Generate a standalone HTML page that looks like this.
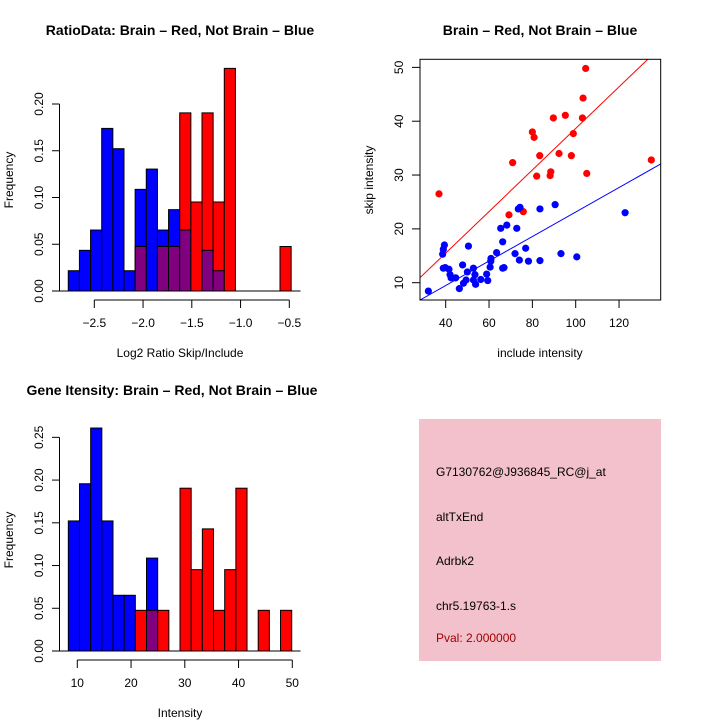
<!DOCTYPE html>
<html><head><meta charset="utf-8"><style>
html,body{margin:0;padding:0;background:#fff;}
svg{display:block;font-family:"Liberation Sans",sans-serif;}
</style></head><body>
<svg id="chart" width="720" height="720" viewBox="0 0 720 720">
<rect x="0" y="0" width="720" height="720" fill="#fff"/>
<g id="p1"></g>
<g id="p2"></g>
<g id="p3"></g>
<g>
<rect x="419" y="419" width="242" height="242" fill="#f3c1cb"/>
<text x="436" y="476" font-size="12" fill="#000">G7130762@J936845_RC@j_at</text>
<text x="436" y="521" font-size="12" fill="#000">altTxEnd</text>
<text x="436" y="565" font-size="12" fill="#000">Adrbk2</text>
<text x="436" y="610" font-size="12" fill="#000">chr5.19763-1.s</text>
<text x="436" y="642" font-size="12" fill="#a00000">Pval: 2.000000</text>
</g>
</svg>
<script>
// Ratio histogram data
const ratioBinStart = -2.767;
const ratioBinWidth = 0.1143;
const ratioBlue = [0.0217,0.0435,0.0652,0.1739,0.1522,0.0217,0.1087,0.1304,0.0652,0.0870,0.0652,0,0.0435,0.0217,0,0,0,0,0,0];
const ratioRed  = [0,0,0,0,0,0,0.0476,0,0.0476,0.0476,0.1905,0.0952,0.1905,0.0952,0.2381,0,0,0,0,0.0476];
const ratioXTicks = [-2.5,-2.0,-1.5,-1.0,-0.5];
const ratioXTickLabels = ["\u22122.5","\u22122.0","\u22121.5","\u22121.0","\u22120.5"];
const ratioYTicks = [0,0.05,0.10,0.15,0.20];
const ratioYTickLabels = ["0.00","0.05","0.10","0.15","0.20"];
// Intensity histogram data
const intBinStart = 8.33;
const intBinWidth = 2.078;
const intBlue = [0.1522,0.1957,0.2609,0.1522,0.0652,0.0652,0,0.1087,0,0,0,0,0,0,0,0,0,0,0,0];
const intRed  = [0,0,0,0,0,0,0.0476,0.0476,0.0476,0,0.1905,0.0952,0.1429,0.0476,0.0952,0.1905,0,0.0476,0,0.0476];
const intXTicks = [10,20,30,40,50];
const intYTicks = [0,0.05,0.10,0.15,0.20,0.25];
const intYTickLabels = ["0.00","0.05","0.10","0.15","0.20","0.25"];
// Scatter data
const redX = [36.9,70.9,69.2,75.8,80.0,80.8,83.4,82.0,88.2,88.5,89.7,92.3,95.2,98.0,98.9,103.1,103.4,104.6,105.1,134.9];
const redY = [26.5,32.3,22.6,23.2,38.0,37.0,33.6,29.8,29.9,30.6,40.6,34.0,41.1,33.6,37.7,40.6,44.3,49.8,30.3,32.8];
const blueX = [32.0,38.6,38.9,39.4,38.9,39.8,41.5,42.0,42.5,44.6,46.3,47.8,48.2,49.4,50.0,50.5,52.8,52.8,53.5,53.8,56.2,58.9,59.4,60.5,60.8,60.9,63.5,65.4,66.3,66.3,66.9,68.2,72.0,72.8,74.0,73.5,74.3,76.9,78.2,83.5,83.5,90.5,93.2,100.5,122.8];
const blueY = [8.45,15.3,16.2,17.0,12.7,12.8,12.5,11.5,10.9,10.9,8.9,13.3,9.9,10.5,12.0,16.8,12.7,10.5,11.5,9.7,10.6,11.6,10.4,12.9,14.0,14.5,15.6,20.1,17.6,12.7,12.8,20.7,15.4,20.1,14.2,23.7,24.0,16.4,14.0,23.7,14.1,24.5,15.4,14.8,23.0];
const redFit = [0.06, 0.386];
const blueFit = [0.38, 0.2275];
const scXTicks = [40,60,80,100,120];
const scYTicks = [10,20,30,40,50];

const NS="http://www.w3.org/2000/svg";
function mk(parent,tag,attrs,text){
  const e=document.createElementNS(NS,tag);
  for(const k in attrs) e.setAttribute(k,attrs[k]);
  if(text!==undefined) e.textContent=text;
  parent.appendChild(e); return e;
}
function line(p,x1,y1,x2,y2,col,name){
  const l=mk(p,'line',{x1:x1,y1:y1,x2:x2,y2:y2,stroke:col||'#000','stroke-width':1});
  
  
  return l;
}
function txt(p,x,y,s,size,name,extra){
  const t=mk(p,'text',Object.assign({x:x,y:y,'font-size':size,'text-anchor':'middle'},extra||{}),s);
  
  
  return t;
}

function histogram(gid,o){
  const g=document.getElementById(gid);
  const sx=v=>o.x0px+(v-o.x0v)*o.xs;
  const sy=v=>o.y0px-v*o.ys;
  const n=Math.max(o.blue.length,o.red.length);
  for(let i=0;i<n;i++){
    const a=o.start+i*o.width, b=a+o.width;
    const bl=o.blue[i]||0, rd=o.red[i]||0;
    const hi=Math.max(bl,rd), lo=Math.min(bl,rd);
    if(hi>0){
      const r=mk(g,'rect',{x:sx(a),y:sy(hi),width:sx(b)-sx(a),height:sy(0)-sy(hi),fill:bl>=rd?'#0000ff':'#ff0000',stroke:'#000','stroke-width':1});
      
      
    }
    if(lo>0){
      const r=mk(g,'rect',{x:sx(a),y:sy(lo),width:sx(b)-sx(a),height:sy(0)-sy(lo),fill:'#800080',stroke:'#000','stroke-width':1});
      
      
    }
  }
  line(g,52,sy(0),300.5,sy(0),'#000','baseline');
  const yt=o.yTicks;
  line(g,59.5,sy(yt[0]),59.5,sy(yt[yt.length-1]),'#000','y-axis');
  yt.forEach((v,i)=>{
    line(g,52,sy(v),59.5,sy(v),'#000','y-tick');
    txt(g,43,sy(v),o.yLabels[i],12,'y-tick-label',{transform:`rotate(-90 43 ${sy(v)})`});
  });
  const xt=o.xTicks;
  const ay=o.y0px+9;
  line(g,sx(xt[0]),ay,sx(xt[xt.length-1]),ay,'#000','x-axis');
  xt.forEach((v,i)=>{
    line(g,sx(v),ay,sx(v),ay+8,'#000','x-tick');
    txt(g,sx(v),ay+27,o.xLabels[i],12,'x-tick-label');
  });
  txt(g,180,o.y0px+66,o.xTitle,12,'x-axis-title');
  txt(g,13,o.yMid,'Frequency',12,'y-axis-title',{transform:`rotate(-90 13 ${o.yMid})`});
  txt(g,o.titleX,o.titleY,o.title,14,'chart-title',{'font-weight':'bold'});
}

histogram('p1',{blue:ratioBlue,red:ratioRed,start:ratioBinStart,width:ratioBinWidth,
  x0v:-2.5,x0px:94.3,xs:97.5,y0px:291,ys:935,
  xTicks:ratioXTicks,xLabels:ratioXTickLabels,yTicks:ratioYTicks,yLabels:ratioYTickLabels,
  xTitle:'Log2 Ratio Skip/Include',yMid:180,title:'RatioData: Brain \u2013 Red, Not Brain \u2013 Blue',titleX:180,titleY:35});

histogram('p3',{blue:intBlue,red:intRed,start:intBinStart,width:intBinWidth,
  x0v:10,x0px:77.3,xs:5.375,y0px:651,ys:854.6,
  xTicks:intXTicks,xLabels:intXTicks.map(String),yTicks:intYTicks,yLabels:intYTickLabels,
  xTitle:'Intensity',yMid:540,title:'Gene Itensity: Brain \u2013 Red, Not Brain \u2013 Blue',titleX:172,titleY:395});

(function(){
  const g=document.getElementById('p2');
  const L=420,R=660.7,T=59.3,B=300;
  const sx=v=>445.7+(v-40)*2.1667;
  const sy=v=>282.7-(v-10)*5.383;
  const cp=mk(g,'clipPath',{id:'clip'});
  mk(cp,'rect',{x:L,y:T,width:R-L,height:B-T});
  const fit=(f,col,name)=>{
    const x1=20,x2=160;
    const l=mk(g,'line',{x1:sx(x1),y1:sy(f[0]+f[1]*x1),x2:sx(x2),y2:sy(f[0]+f[1]*x2),stroke:col,'stroke-width':1,'clip-path':'url(#clip)'});
    
    
  };
  fit(redFit,'#ff0000','red-fit-line');
  fit(blueFit,'#0000ff','blue-fit-line');
  redX.forEach((x,i)=>{
    const c=mk(g,'circle',{cx:sx(x),cy:sy(redY[i]),r:3.6,fill:'#ff0000'});
    
    
  });
  blueX.forEach((x,i)=>{
    const c=mk(g,'circle',{cx:sx(x),cy:sy(blueY[i]),r:3.6,fill:'#0000ff'});
    
    
  });
  const f=mk(g,'rect',{x:L,y:T,width:R-L,height:B-T,fill:'none',stroke:'#000','stroke-width':1});
  
  
  scXTicks.forEach(v=>{
    line(g,sx(v),B,sx(v),B+8,'#000','x-tick');
    txt(g,sx(v),B+27,String(v),12,'x-tick-label');
  });
  scYTicks.forEach(v=>{
    line(g,L-8,sy(v),L,sy(v),'#000','y-tick');
    txt(g,403,sy(v),String(v),12,'y-tick-label',{transform:`rotate(-90 403 ${sy(v)})`});
  });
  txt(g,540,357,'include intensity',12,'x-axis-title');
  txt(g,373,180,'skip intensity',12,'y-axis-title',{transform:'rotate(-90 373 180)'});
  txt(g,540,35,'Brain \u2013 Red, Not Brain \u2013 Blue',14,'chart-title',{'font-weight':'bold'});
})();
</script>
</body></html>
